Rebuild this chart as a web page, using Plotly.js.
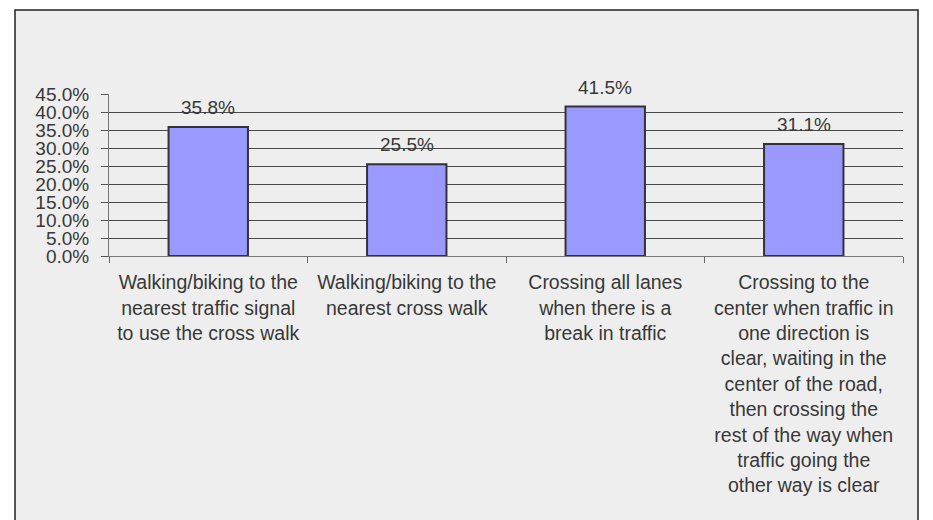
<!DOCTYPE html>
<html>
<head>
<meta charset="utf-8">
<script src="https://cdn.plot.ly/plotly-3.0.1.min.js"></script>
<style>html,body{margin:0;padding:0;background:#fff;}</style>
</head>
<body>
<div id="chart" style="width:933px;height:520px;"></div>
<script>
const categories = [
  "Walking/biking to the<br>nearest traffic signal<br>to use the cross walk",
  "Walking/biking to the<br>nearest cross walk",
  "Crossing all lanes<br>when there is a<br>break in traffic",
  "Crossing to the<br>center when traffic in<br>one direction is<br>clear, waiting in the<br>center of the road,<br>then crossing the<br>rest of the way when<br>traffic going the<br>other way is clear"
];
const values = [35.8, 25.5, 41.5, 31.1];
const yTickVals = [0, 5, 10, 15, 20, 25, 30, 35, 40, 45];
const yTickText = yTickVals.map(v => v.toFixed(1) + "%");

const FONT = "Liberation Sans, Arial, sans-serif";
const TXT = "#383838";

const trace = {
  type: "bar",
  x: categories,
  y: values,
  width: 0.4,
  marker: {color: "#9999FF", line: {color: "#333333", width: 2}},
  hoverinfo: "none"
};

const annotations = categories.map((c, i) => ({
  x: c, y: values[i], xref: "x", yref: "y",
  text: values[i].toFixed(1) + "%",
  showarrow: false, yanchor: "bottom", yshift: 7,
  font: {family: FONT, size: 19, color: TXT}
}));

const L = 109, R = 903, T = 94, B = 256;
const W = R - L, H = B - T;
const shapes = [{
  type: "rect", xref: "paper", yref: "paper", layer: "below",
  x0: (15 - L) / W, x1: (918 - L) / W,
  y0: (B - 540) / H, y1: (B - 10) / H,
  fillcolor: "#EEEEEE", line: {color: "#222222", width: 1.5}
}];

const layout = {
  width: 933, height: 520,
  margin: {l: L, r: 933 - R, t: T, b: 520 - B, pad: 0},
  paper_bgcolor: "#ffffff",
  plot_bgcolor: "rgba(0,0,0,0)",
  showlegend: false,
  bargap: 0.6,
  shapes: shapes,
  annotations: annotations,
  font: {family: FONT, color: TXT},
  xaxis: {
    type: "category",
    tickson: "boundaries",
    ticks: "outside", ticklen: 6, tickcolor: "#666", tickwidth: 1,
    showline: true, linecolor: "#777", linewidth: 1,
    showgrid: false, zeroline: false,
    tickfont: {family: FONT, size: 19.5, color: TXT},
    ticklabelstandoff: 9,
    tickangle: 0, automargin: false
  },
  yaxis: {
    range: [0, 45],
    tickvals: yTickVals, ticktext: yTickText,
    ticks: "outside", ticklen: 7, tickcolor: "#555", tickwidth: 1,
    showline: true, linecolor: "#777", linewidth: 1,
    showgrid: true, gridcolor: "#4a4a4a", gridwidth: 1,
    zeroline: false,
    tickfont: {family: FONT, size: 19, color: TXT},
    ticklabelstandoff: 8,
    automargin: false
  }
};

Plotly.newPlot("chart", [trace], layout, {displayModeBar: false, staticPlot: true});
</script>
</body>
</html>
